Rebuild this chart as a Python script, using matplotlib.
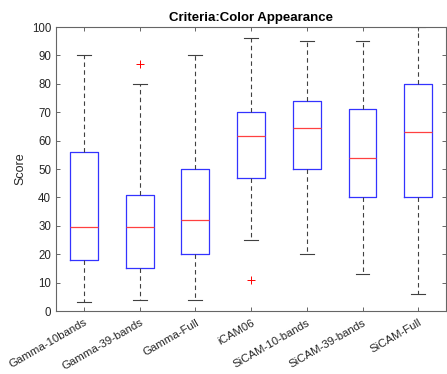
import matplotlib
matplotlib.use("Agg")
import matplotlib.pyplot as plt

plt.rcParams['font.family'] = ['Liberation Sans', 'DejaVu Sans']

categories = ["Gamma-10bands", "Gamma-39-bands", "Gamma-Full", "iCAM06",
              "SiCAM-10-bands", "SiCAM-39-bands", "SiCAM-Full"]
whislo = [3, 4, 4, 25, 20, 13, 6]
q1 = [18, 15, 20, 47, 50, 40, 40]
med = [29.5, 29.5, 32, 61.5, 64.3, 54, 63]
q3 = [56, 41, 50, 70, 74, 71, 80]
whishi = [90, 80, 90, 96, 95, 95, 100]
fliers = [[], [87], [], [10.8], [], [], []]
yticks = list(range(0, 101, 10))

stats = []
for i, c in enumerate(categories):
    stats.append(dict(label=c, whislo=whislo[i], q1=q1[i], med=med[i],
                      q3=q3[i], whishi=whishi[i], fliers=fliers[i]))

fig = plt.figure(figsize=(4.47, 3.74), dpi=100)
ax = fig.add_axes([0.1253, 0.1684, 0.8727, 0.7594])

ax.bxp(stats, widths=0.5, showfliers=True,
       boxprops=dict(color=(0.2, 0.2, 1.0), linewidth=0.9),
       medianprops=dict(color=(1.0, 0.25, 0.25), linewidth=0.9),
       whiskerprops=dict(color=(0.25, 0.25, 0.25), linestyle=(0, (4, 3)), linewidth=0.8),
       capprops=dict(color=(0.25, 0.25, 0.25), linewidth=0.8),
       flierprops=dict(marker='+', markeredgecolor='red', markersize=6, linestyle='none',
                       markeredgewidth=0.7))

ax.set_xlim(0.5, 7.5)
ax.set_ylim(0, 100)
ax.set_yticks(yticks)
ax.set_xticks(range(1, len(categories) + 1))
ax.set_xticklabels(categories, rotation=30, ha='right', rotation_mode='anchor',
                   fontsize=8.2, color=(0.15, 0.15, 0.15))
ax.tick_params(axis='y', labelsize=8.3, labelcolor=(0.15, 0.15, 0.15))
ax.tick_params(direction='in', top=True, right=True, length=3,
               color=(0.3, 0.3, 0.3), width=0.6)
ax.tick_params(axis='x', pad=4.5)
for s in ax.spines.values():
    s.set_color((0.4, 0.4, 0.4))
    s.set_linewidth(0.8)
ax.set_ylabel("Score", fontsize=9, color=(0.15, 0.15, 0.15))
ax.set_title("Criteria:Color Appearance", fontsize=9.5, fontweight='bold', pad=4)

fig.savefig("out.png", dpi=100)
